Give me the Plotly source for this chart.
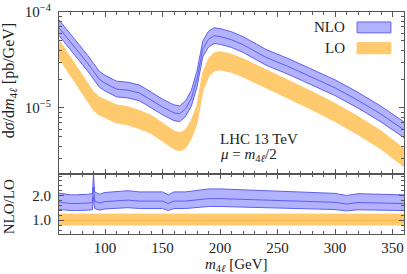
import plotly.graph_objects as go

# ---- data ----
m_main = [60, 65, 70, 75, 80, 85, 90, 95, 100, 110, 120, 130, 140, 150, 160, 165,
          170, 175, 180, 185, 190, 195, 200, 210, 220, 240, 260, 280, 300, 320, 340, 360]
nlo = [6.84e-5, 5.79e-5, 4.91e-5, 4.16e-5, 3.44e-5, 2.91e-5, 2.41e-5, 1.99e-5, 1.81e-5,
       1.57e-5, 1.53e-5, 1.43e-5, 1.21e-5, 1.02e-5, 8.87e-6, 8.67e-6,
       9.8e-6, 1.25e-5, 2.0e-5, 4.1e-5, 5.2e-5, 5.66e-5, 5.55e-5, 5.14e-5, 4.57e-5,
       3.36e-5, 2.68e-5, 2.10e-5, 1.62e-5, 1.20e-5, 8.6e-6, 5.9e-6]
lo = [4.07e-5, 3.30e-5, 2.67e-5, 2.16e-5, 1.75e-5, 1.42e-5, 1.17e-5, 1.04e-5, 9.7e-6,
      8.6e-6, 8.2e-6, 7.5e-6, 6.7e-6, 5.6e-6, 4.6e-6, 4.4e-6,
      4.7e-6, 5.9e-6, 8.5e-6, 1.85e-5, 2.6e-5, 3.0e-5, 3.08e-5, 2.9e-5, 2.6e-5,
      2.0e-5, 1.55e-5, 1.18e-5, 8.9e-6, 6.5e-6, 4.6e-6, 3.0e-6]

m_ratio = [60, 65, 70, 75, 80, 85, 89, 90, 91, 95, 100, 110, 120, 130, 140, 150, 155,
           160, 170, 180, 190, 200, 220, 240, 260, 280, 300, 310, 320, 340, 360]
ratio_nlo = [1.74, 1.70, 1.68, 1.68, 1.68, 1.70, 1.72, 2.35, 1.78, 1.70, 1.76, 1.80, 1.82,
             1.78, 1.78, 1.78, 1.68, 1.78, 1.78, 1.83, 1.88, 1.88, 1.85, 1.81, 1.78, 1.76,
             1.73, 1.66, 1.72, 1.70, 1.68]
ratio_lo = [1.0] * len(m_ratio)

# relative scale uncertainties (up, down)
nlo_unc = (0.21, 0.17)
lo_unc = (0.25, 0.19)

BLUE_FILL = "rgba(165,165,255,0.85)"
BLUE_LINE = "rgb(95,95,240)"
ORANGE_FILL = "rgb(255,201,110)"
ORANGE_LINE = "rgb(250,180,70)"
FONT = "Liberation Serif, DejaVu Serif, serif"
FS = 15

fig = go.Figure()


def band(x, c, unc, fill, line, xa, ya, edge_lines=True, center=True, cw=1):
    up = [v * (1 + unc[0]) for v in c]
    dn = [v * (1 - unc[1]) for v in c]
    fig.add_trace(go.Scatter(x=x, y=up, mode="lines", line=dict(color=line if edge_lines else fill, width=1),
                             xaxis=xa, yaxis=ya, showlegend=False, hoverinfo="skip"))
    fig.add_trace(go.Scatter(x=x, y=dn, mode="lines", line=dict(color=line if edge_lines else fill, width=1),
                             fill="tonexty", fillcolor=fill,
                             xaxis=xa, yaxis=ya, showlegend=False, hoverinfo="skip"))
    if center:
        fig.add_trace(go.Scatter(x=x, y=c, mode="lines", line=dict(color=line, width=cw),
                                 xaxis=xa, yaxis=ya, showlegend=False, hoverinfo="skip"))


band(m_main, lo, lo_unc, ORANGE_FILL, ORANGE_LINE, "x", "y", edge_lines=False, center=False)
band(m_main, nlo, nlo_unc, BLUE_FILL, BLUE_LINE, "x", "y")
band(m_ratio, ratio_lo, lo_unc, ORANGE_FILL, ORANGE_LINE, "x2", "y2", edge_lines=False, center=True)
band(m_ratio, ratio_nlo, nlo_unc, BLUE_FILL, BLUE_LINE, "x2", "y2")

axis_common = dict(showline=True, linecolor="#555", linewidth=1, mirror="ticks", ticks="inside",
                   tickcolor="#555", showgrid=False, zeroline=False, ticklabeloverflow="allow",
                   tickfont=dict(family=FONT, size=FS, color="#222"))

xt = [100, 150, 200, 250, 300, 350]
xminor = [v for v in range(60, 361, 10)]
fig.update_layout(
    width=407, height=274,
    margin=dict(l=59, r=2, t=10, b=40),
    plot_bgcolor="white", paper_bgcolor="white",
    xaxis=dict(range=[60, 360], domain=[0, 1], anchor="y", matches="x2", showticklabels=False,
               tickvals=xt, ticklen=5, minor=dict(tickvals=xminor, ticklen=3, ticks="inside", tickcolor="#555"),
               **axis_common),
    yaxis=dict(type="log", range=[-5.69, -4.0], domain=[0.27, 1], anchor="x",
               tickvals=[1e-5, 1e-4], ticktext=["10<sup>−5</sup>", "10<sup>−4</sup>"], ticklen=5,
               ticklabelstandoff=4,
               minor=dict(tickvals=[k * 1e-6 for k in range(2, 10)] + [k * 1e-5 for k in range(2, 10)],
                          ticklen=3, ticks="inside", tickcolor="#555"),
               **axis_common),
    xaxis2=dict(range=[60, 360], domain=[0, 1], anchor="y2", tickvals=xt, ticklen=5,
                minor=dict(tickvals=xminor, ticklen=3, ticks="inside", tickcolor="#555"),
                **axis_common),
    yaxis2=dict(range=[0.44, 2.88], domain=[0, 0.27], anchor="x2", tickvals=[1.0, 2.0],
                ticktext=["1.0", "2.0"], ticklen=5, ticklabelstandoff=4,
                minor=dict(dtick=0.2, tick0=0, ticklen=3, ticks="inside", tickcolor="#555"),
                **axis_common),
)

tf = dict(family=FONT, size=FS, color="#222")


def note(x, y, text, xa="center", ya="middle", angle=0, size=FS):
    return dict(x=x, y=y, xref="paper", yref="paper", text=text, xanchor=xa, yanchor=ya,
                textangle=angle, showarrow=False, font=dict(family=FONT, size=size, color="#222"))


ann = [
    note(-0.145, 0.692, "d<i>σ</i>/d<i>m</i><sub>4<i>ℓ</i></sub> [pb/GeV]", angle=-90, size=16),
    note(-0.145, 0.125, "NLO/LO", angle=-90),
    note(0.515, -0.138, "<i>m</i><sub>4<i>ℓ</i></sub> [GeV]"),
    note(0.462, 0.43, "LHC 13 TeV", xa="left"),
    note(0.462, 0.355, "<i>μ</i> = <i>m</i><sub>4<i>ℓ</i></sub>/2", xa="left"),
    note(0.835, 0.933, "NLO", xa="right"),
    note(0.835, 0.84, "LO", xa="right"),
]
fig.update_layout(annotations=ann)
fig.add_shape(type="rect", xref="paper", yref="paper", x0=0.864, x1=0.962, y0=0.906, y1=0.955,
              fillcolor=BLUE_FILL, line=dict(color=BLUE_LINE, width=1))
fig.add_shape(type="rect", xref="paper", yref="paper", x0=0.864, x1=0.962, y0=0.812, y1=0.862,
              fillcolor=ORANGE_FILL, line=dict(color=ORANGE_FILL, width=1))

# the page body's default 8 px margin would shift the figure; remove it
fig.write_html("out.html", config={"displayModeBar": False},
               post_script="document.body.style.margin='0px';")
